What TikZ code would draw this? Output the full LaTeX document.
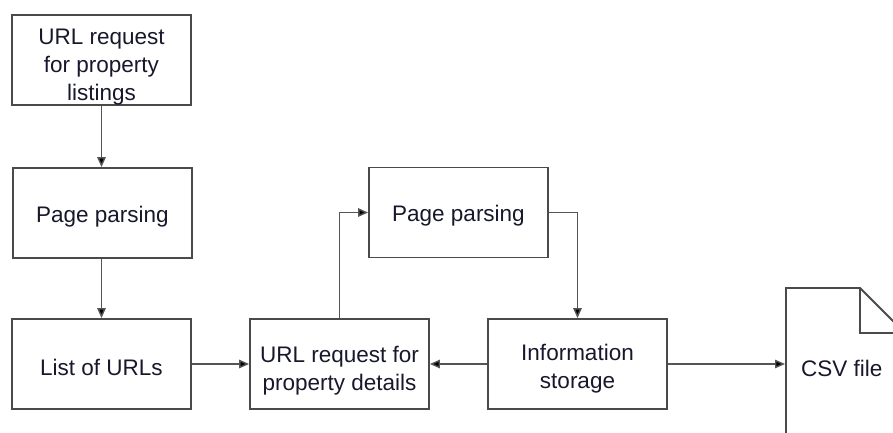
\documentclass[tikz,border=0pt]{standalone}
\usepackage{fontspec}
\setmainfont{Liberation Sans}
\usetikzlibrary{arrows.meta}
\definecolor{boxline}{HTML}{4A4A4A}
\definecolor{wire}{HTML}{555555}
\definecolor{ink}{HTML}{18182C}
\begin{document}
\begin{tikzpicture}[x=1pt,y=-1pt,
  stepbox/.style={draw=boxline,line width=1.8pt,fill=white,minimum width=179pt,
    minimum height=90pt,inner sep=0pt},
  steptext/.style={inner sep=0pt,align=center,text=ink,
    font=\fontsize{22.5}{28}\selectfont},
  flow/.style={draw=wire,line width=1.4pt,-{Triangle[length=10pt,width=8.5pt,fill=black]}}]
\useasboundingbox (0,0) rectangle (893,432);
\clip (0,0) rectangle (893,432);

% left column
\node[stepbox] (req)   at (101.5,60)  {};
\node[steptext] (reqT) at ([yshift=-7pt]req.center) {URL request\\for property\\listings};
\node[stepbox] (parse) at (102.5,213) {};
\node[steptext] (parseT) at ([yshift=-4pt]parse.center) {Page parsing};
\node[stepbox] (urls)  at (101.5,364) {};
\node[steptext] (urlsT) at ([yshift=-3.5pt]urls.center) {List of URLs};

% detail loop
\node[stepbox] (detreq) at (339.5,364) {};
\node[steptext] (detreqT) at ([yshift=-7pt]detreq.center) {URL request for\\property details};
\node[stepbox] (detparse) at (458.5,212.5) {};
\node[steptext] (detparseT) at ([yshift=-3.5pt]detparse.center) {Page parsing};
\node[stepbox] (store) at (577.5,364) {};
\node[steptext] (storeT) at ([yshift=-5pt]store.center) {Information\\storage};

% CSV document with folded corner
\draw[boxline,line width=1.8pt,fill=white] (786,440) -- (786,288) -- (860,288) -- (910,338) -- (910,440);
\draw[boxline,line width=1.8pt] (860,288) -- (860,333) -- (910,333);
\node[steptext,anchor=west] (csv) at (801,368) {CSV file};
\coordinate (csvin) at (785,364);

% connectors
\draw[flow] (req.south) -- (parse.north -| req.south);
\draw[flow] (parse.south -| urls.north) -- (urls.north);
\draw[flow] (urls.east) -- (detreq.west);
\draw[flow] (detreq.north) |- (detparse.west);
\draw[flow] (detparse.east) -| (store.north);
\draw[flow] (store.west) -- (detreq.east);
\draw[flow] (store.east) -- (csvin);
\end{tikzpicture}
\end{document}
